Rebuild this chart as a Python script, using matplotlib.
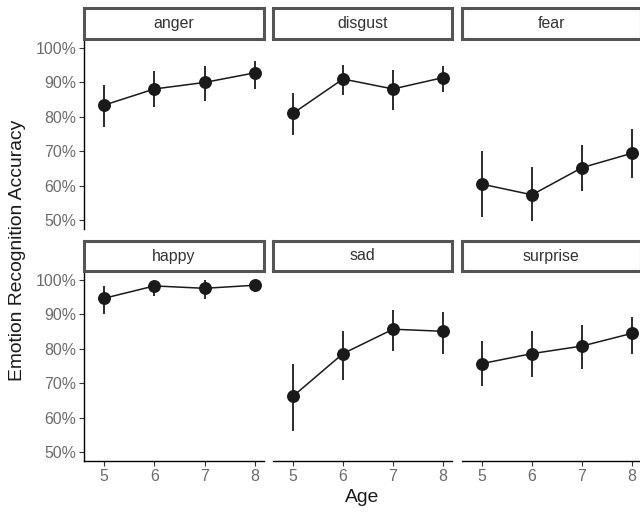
import numpy as np
import matplotlib
matplotlib.use("Agg")
import matplotlib.pyplot as plt
from matplotlib.ticker import PercentFormatter

plt.rcParams['font.family'] = ['Liberation Sans', 'DejaVu Sans']

# Data (accuracy in %)
ages = [5, 6, 7, 8]
emotions = ["anger", "disgust", "fear", "happy", "sad", "surprise"]
means = {
    "anger":    [83.4, 88.1, 90.0, 92.8],
    "disgust":  [81.0, 91.0, 88.1, 91.4],
    "fear":     [60.4, 57.3, 65.2, 69.4],
    "happy":    [94.7, 98.3, 97.6, 98.5],
    "sad":      [66.2, 78.6, 85.7, 85.1],
    "surprise": [75.7, 78.6, 80.8, 84.5],
}
upper = {
    "anger":    [89.2, 93.3, 94.9, 96.3],
    "disgust":  [86.8, 95.1, 93.6, 94.9],
    "fear":     [70.1, 65.5, 71.8, 76.4],
    "happy":    [98.3, 99.5, 100.0, 99.8],
    "sad":      [75.7, 85.2, 91.3, 90.8],
    "surprise": [82.2, 85.2, 86.9, 89.3],
}
lower = {
    "anger":    [76.9, 82.8, 84.5, 88.0],
    "disgust":  [74.6, 86.3, 82.0, 87.3],
    "fear":     [50.8, 49.7, 58.4, 62.3],
    "happy":    [90.1, 95.3, 94.5, 96.6],
    "sad":      [56.1, 70.9, 79.5, 78.6],
    "surprise": [69.2, 71.7, 74.0, 78.6],
}
yticks = [50, 60, 70, 80, 90, 100]

W, H = 640, 513
fig = plt.figure(figsize=(W / 100, H / 100), dpi=100)

# panel layout in pixels
cols = [(84, 264), (273, 452), (462, 641)]
rows = [(40, 229, 8), (272, 461, 241)]  # panel top, panel bottom, strip top

ink = '#1a1a1a'
grey = '#6b6b6b'

for i, emo in enumerate(emotions):
    r, c = divmod(i, 3)
    x0, x1 = cols[c]
    top, bot, stop = rows[r]
    ax = fig.add_axes([x0 / W, 1 - bot / H, (x1 - x0) / W, (bot - top) / H])
    m = np.array(means[emo])
    lo = np.array(lower[emo])
    hi = np.array(upper[emo])
    ax.vlines(ages, lo, hi, color=ink, linewidth=1.3, zorder=2)
    ax.plot(ages, m, color=ink, linewidth=1.1, zorder=2)
    ax.plot(ages, m, 'o', color=ink, markersize=8.3, zorder=3)
    ax.set_xlim(4.6, 8.18)
    ax.set_ylim(47.35, 102.35)
    ax.set_yticks(yticks)
    ax.set_xticks(ages)
    ax.yaxis.set_major_formatter(PercentFormatter(decimals=0))
    for s in ['top', 'right']:
        ax.spines[s].set_visible(False)
    ax.spines['left'].set_visible(c == 0)
    ax.spines['bottom'].set_visible(r == 1)
    for s in ['left', 'bottom']:
        ax.spines[s].set_linewidth(1.0)
        ax.spines[s].set_color('black')
    ax.tick_params(axis='y', left=(c == 0), labelleft=(c == 0),
                   length=3.5, width=0.8, color='#333333',
                   labelsize=11.4, labelcolor=grey, pad=2)
    ax.tick_params(axis='x', bottom=(r == 1), labelbottom=(r == 1),
                   length=3.5, width=0.8, color='#333333',
                   labelsize=11.4, labelcolor=grey, pad=2)
    ax.patch.set_alpha(0)

    # facet strip
    sax = fig.add_axes([(x0 - 0.5) / W, 1 - (top - 1) / H, (x1 - x0 + 0.5) / W, (top - 1 - stop) / H])
    sax.set_xticks([])
    sax.set_yticks([])
    for s in sax.spines.values():
        s.set_color('#555555')
        s.set_linewidth(2.2)
    sax.text(0.5, 0.5, emo, ha='center', va='center', fontsize=11.4,
             color='#333333', transform=sax.transAxes)

fig.text(18 / W, 1 - 250 / H, "Emotion Recognition Accuracy", rotation=90,
         ha='center', va='center', fontsize=13.9, color='#1a1a1a')
fig.text(362 / W, 1 - 497 / H, "Age", ha='center', va='center',
         fontsize=13.9, color='#1a1a1a')

fig.savefig("out.png", dpi=100)
